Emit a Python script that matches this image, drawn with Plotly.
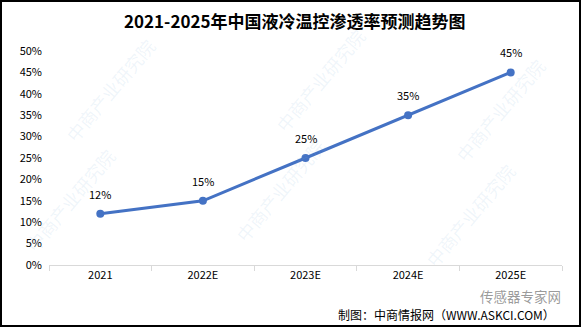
import plotly.graph_objects as go

categories = ["2021", "2022E", "2023E", "2024E", "2025E"]
values = [0.12, 0.15, 0.25, 0.35, 0.45]
labels = ["12%", "15%", "25%", "35%", "45%"]
title_text = "2021-2025年中国液冷温控渗透率预测趋势图"
source_text = "制图：中商情报网（WWW.ASKCI.COM）"
wm_text = "中商产业研究院"

W, H = 581, 327
ml, mr, mt, mb = 49, 19, 51, 62
pw, ph = W - ml - mr, H - mt - mb

def px_x(px):
    return (px - ml) / pw

def px_y(py):
    return 1 - (py - mt) / ph

fig = go.Figure()
fig.add_trace(go.Scatter(
    x=categories, y=values, mode="lines+markers",
    line=dict(color="#4472C4", width=3),
    marker=dict(color="#4472C4", size=8),
    hoverinfo="skip",
))

annotations = []
# faint watermarks
wm_positions = [(110, 90), (320, 80), (500, 110), (70, 200), (280, 190), (470, 215)]
for (x, y) in wm_positions:
    annotations.append(dict(x=px_x(x), y=px_y(y), xref="paper", yref="paper", text=wm_text, showarrow=False,
                            textangle=-50, xanchor="center", yanchor="middle",
                            font=dict(family="Noto Sans CJK SC", size=18, color="rgba(130,180,220,0.13)")))
for i, (v, t) in enumerate(zip(values, labels)):
    annotations.append(dict(x=i, y=v, xref="x", yref="y", text=t, showarrow=False, yshift=20,
                            xanchor="center", yanchor="middle",
                            font=dict(family="Noto Sans CJK SC", size=11, color="#000000")))
annotations.append(dict(x=px_x(295), y=px_y(20), xref="paper", yref="paper", text="<b>" + title_text + "</b>",
                        showarrow=False, xanchor="center", yanchor="middle",
                        font=dict(family="Noto Sans CJK SC", size=17, color="#000000")))
annotations.append(dict(x=px_x(557), y=px_y(314), xref="paper", yref="paper", text=source_text, showarrow=False,
                        xanchor="right", yanchor="middle",
                        font=dict(family="Noto Sans CJK SC", size=12, color="#000000")))
annotations.append(dict(x=px_x(563), y=px_y(296), xref="paper", yref="paper", text="传感器专家网",
                        showarrow=False, xanchor="right", yanchor="middle",
                        font=dict(family="Noto Sans CJK SC", size=13.5, color="rgba(110,110,110,0.7)")))

fig.update_layout(
    width=W, height=H,
    margin=dict(l=ml, r=mr, t=mt, b=mb),
    paper_bgcolor="#ffffff", plot_bgcolor="#ffffff",
    showlegend=False,
    font=dict(family="Noto Sans CJK SC", size=11, color="#000000"),
    xaxis=dict(range=[-0.5, 4.5], showgrid=False, showline=True, linecolor="#d9d9d9", linewidth=1,
               ticks="outside", tickson="boundaries", tickcolor="#d9d9d9", ticklen=5,
               tickfont=dict(size=11, color="#000000"), zeroline=False, fixedrange=True),
    yaxis=dict(range=[0, 0.5], dtick=0.05, tickformat=".0%", showgrid=False, zeroline=False,
               showline=False, tickfont=dict(size=11, color="#000000"), ticklabelstandoff=6),
    annotations=annotations,
    shapes=[dict(type="rect", xref="paper", yref="paper",
                 x0=px_x(1), x1=px_x(W - 1), y0=px_y(H - 1), y1=px_y(1),
                 line=dict(color="#000000", width=2))],
)

fig.write_html("out.html")
